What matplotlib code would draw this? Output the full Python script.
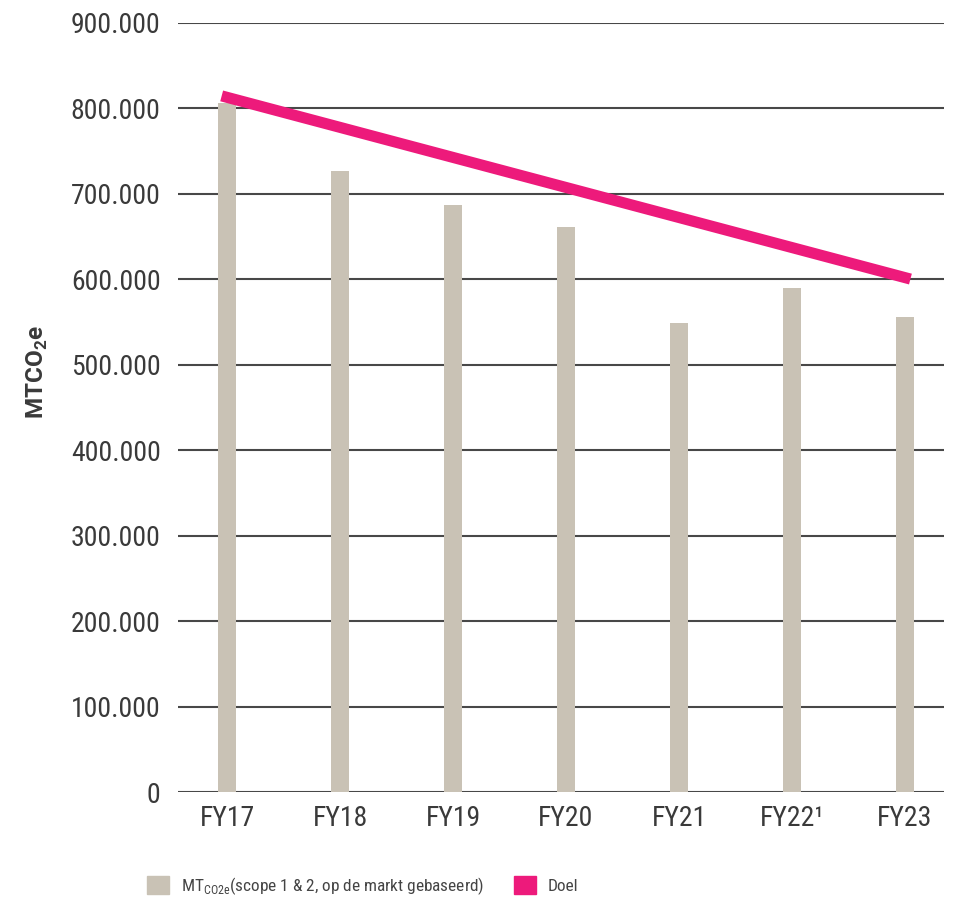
import matplotlib
matplotlib.use("Agg")
import matplotlib.pyplot as plt
from matplotlib.patches import Patch
from matplotlib.ticker import FuncFormatter

# data
years = ["FY17", "FY18", "FY19", "FY20", "FY21", "FY22\u00b9", "FY23"]
emissions = [806000, 727000, 687000, 661000, 549000, 590000, 556000]
target_pos = [0, 6]
target_vals = [813000, 602000]
yticks = list(range(0, 900001, 100000))

bar_color = "#c9c2b5"
pink = "#ed1a7b"
text_color = "#3a3a3a"

plt.rcParams["font.family"] = ["Roboto Condensed", "DejaVu Sans"]
plt.rcParams["mathtext.fontset"] = "custom"
plt.rcParams["mathtext.rm"] = "Roboto Condensed"
plt.rcParams["mathtext.bf"] = "Roboto:bold"

fig = plt.figure(figsize=(9.59, 8.98), dpi=100)
ax = fig.add_axes([0.1856, 0.118, 0.7988, 0.8564])

x = range(len(years))
ax.bar(x, emissions, width=0.16, color=bar_color, zorder=2)
ax.plot(target_pos, target_vals, color=pink, lw=8, solid_capstyle="projecting", zorder=3)

ax.set_xlim(-0.434, 6.345)
ax.set_ylim(0, 900000)
ax.set_yticks(yticks)
ax.yaxis.set_major_formatter(FuncFormatter(lambda v, p: "0" if v == 0 else f"{int(v):,}".replace(",", ".")))
ax.set_xticks(list(x))
ax.set_xticklabels(years)
ax.tick_params(axis="both", length=0, labelsize=20, colors=text_color)
ax.tick_params(axis="y", pad=12.5)
ax.tick_params(axis="x", pad=9.5)

for s in ax.spines.values():
    s.set_visible(False)
ax.grid(axis="y", color="#484848", lw=1.5, zorder=1)
ax.set_axisbelow(True)

ax.set_ylabel(r"MTCO$_\mathbf{2}$e", fontsize=17.5, fontweight="bold", family="Roboto",
              color=text_color, labelpad=15)
ax.yaxis.label.set_y(0.546)

handles = [Patch(color=bar_color), Patch(color=pink)]
labels = [r"MT$_{\mathrm{CO2e}}$(scope 1 & 2, op de markt gebaseerd)", "Doel"]
fig.legend(handles, labels, loc="center left", bbox_to_anchor=(0.1376, 0.0134), ncol=2,
           frameon=False, fontsize=12.4, handlelength=1.27, handleheight=1.27,
           handletextpad=0.7, columnspacing=1.7, labelcolor="#444444")

fig.savefig("out.png", dpi=100)
